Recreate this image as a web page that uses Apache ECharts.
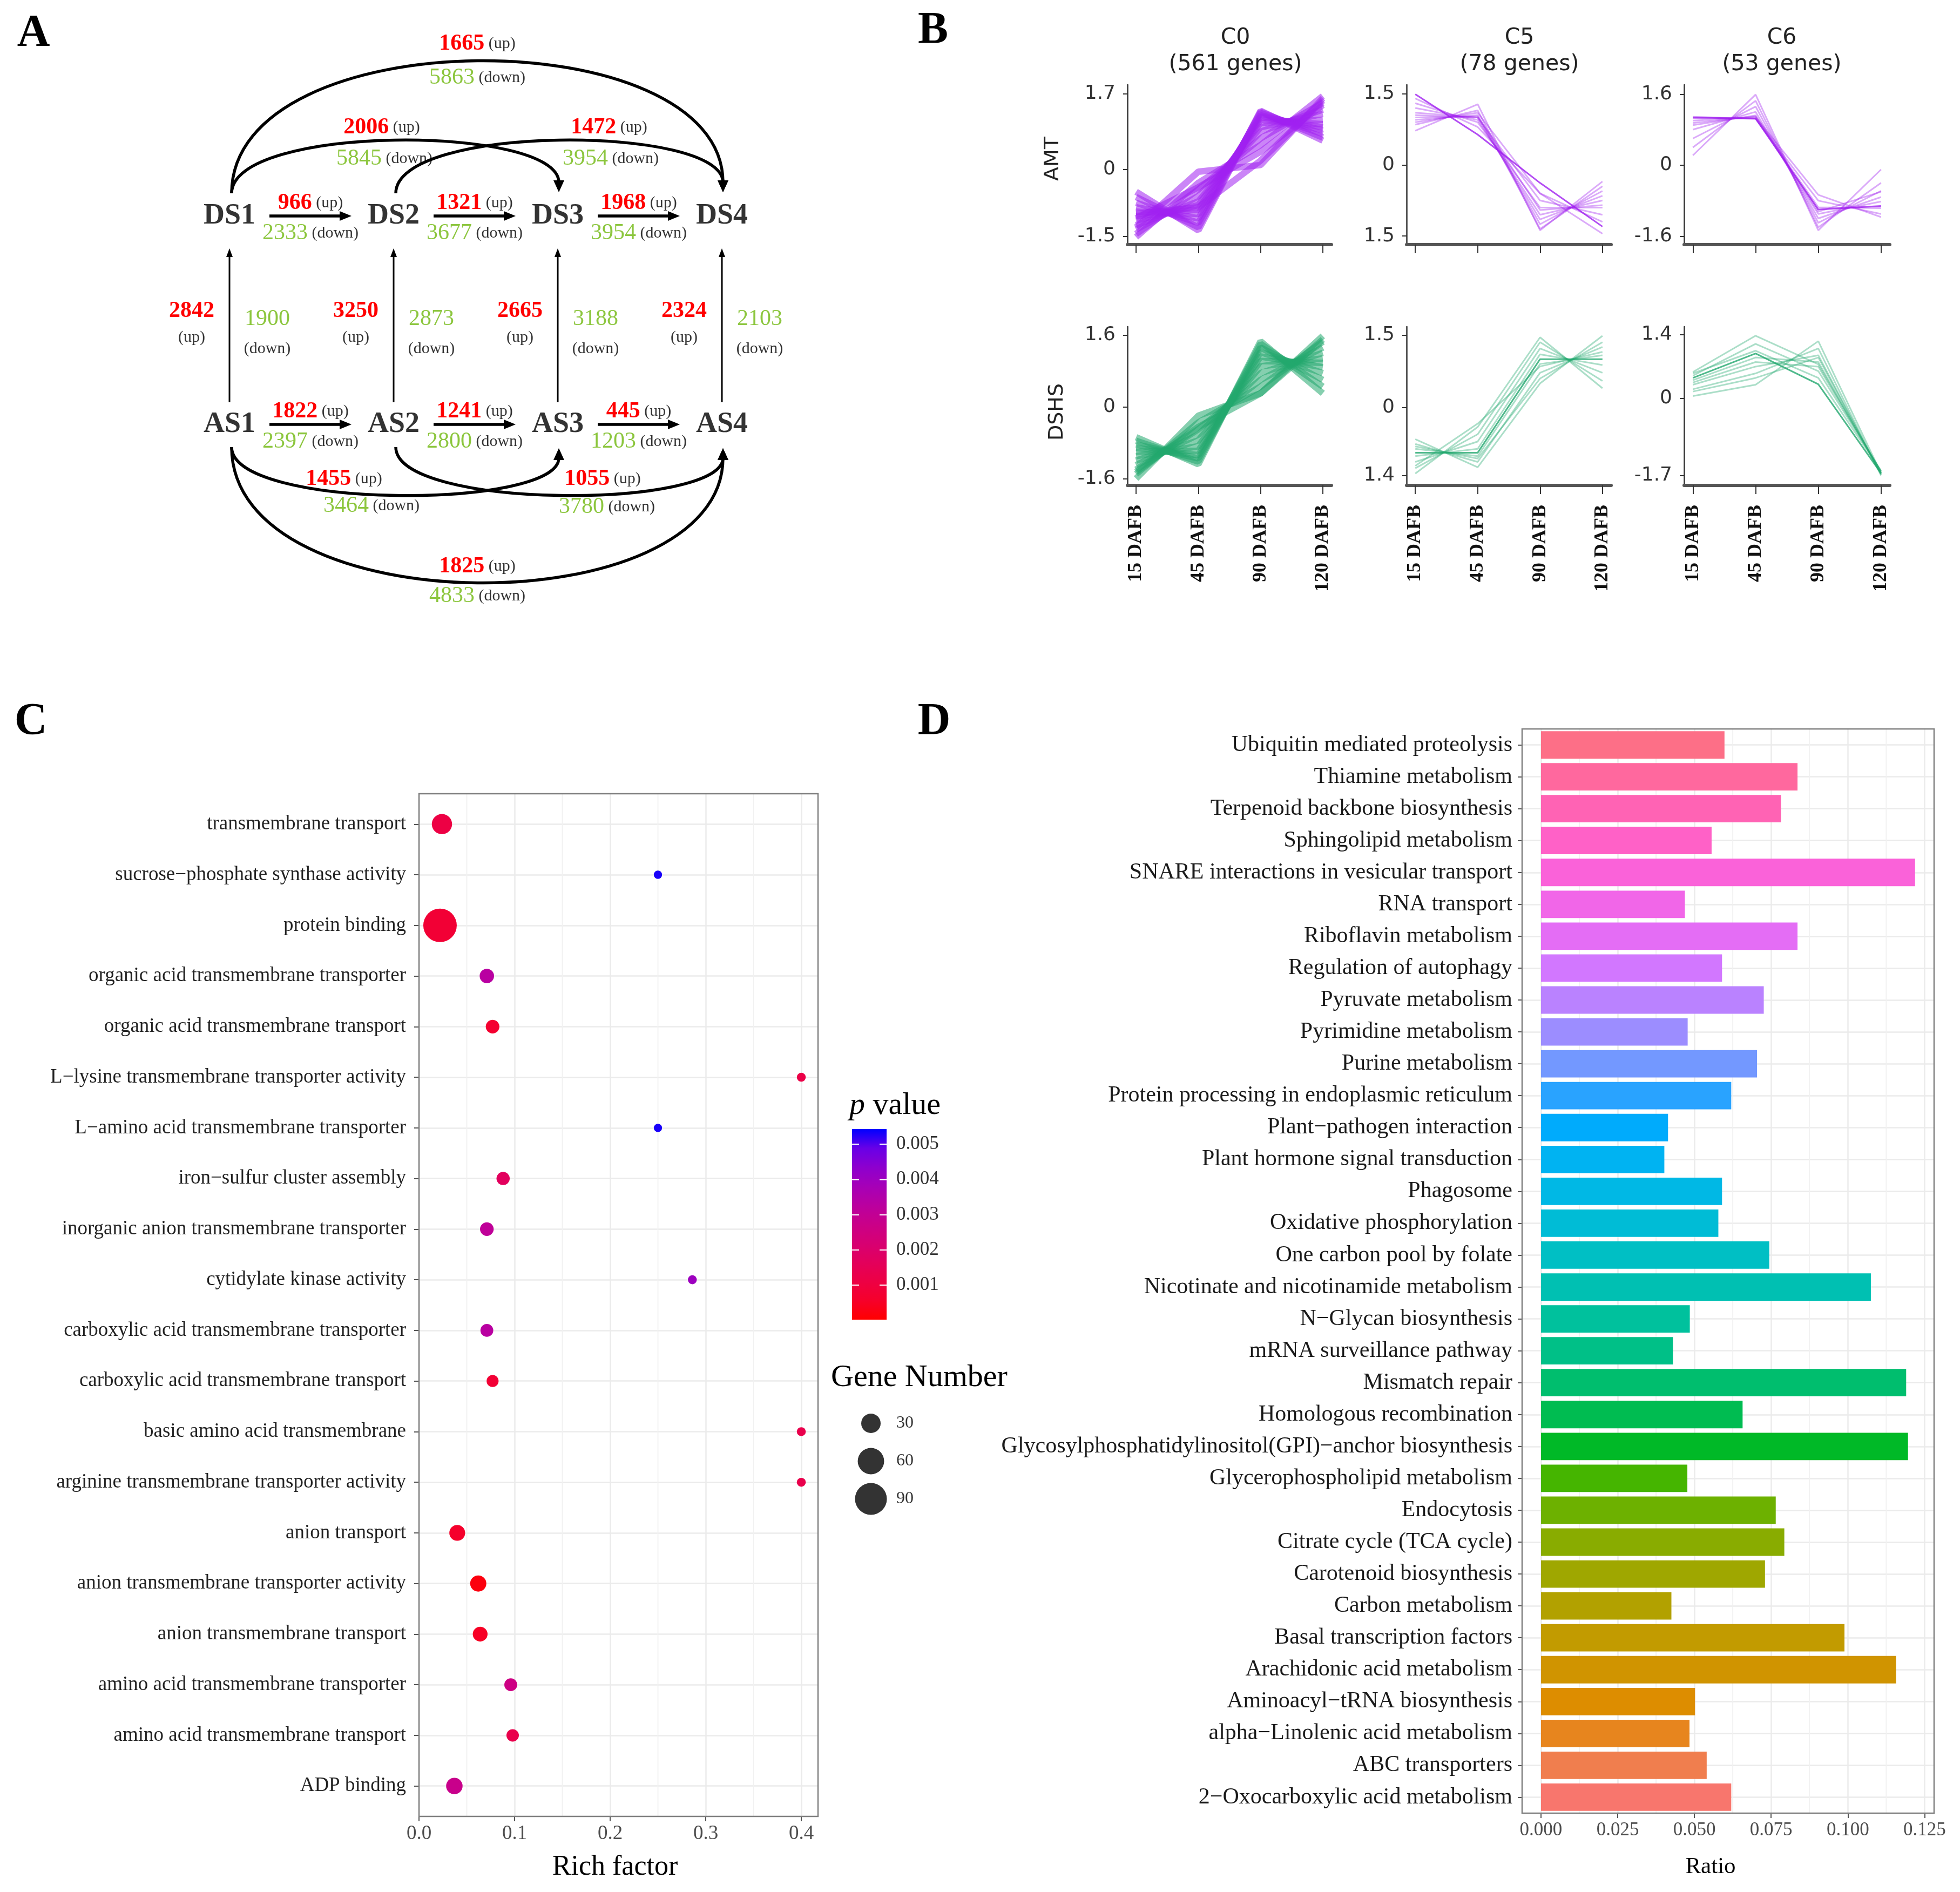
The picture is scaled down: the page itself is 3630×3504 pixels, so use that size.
<!DOCTYPE html>
<html><head><meta charset="utf-8">
<script src="https://cdn.jsdelivr.net/npm/echarts@6/dist/echarts.min.js"></script>
<style>html,body{margin:0;padding:0;background:#fff}#c{width:3630px;height:3504px}</style>
</head><body><div id="c"></div>
<script>
// ================= DATA =================
// Panel A: differential genes between stages
const nodeNames = ['DS1','DS2','DS3','DS4','AS1','AS2','AS3','AS4'];
const stepLinksDS = [['DS1','DS2',966,2333],['DS2','DS3',1321,3677],['DS3','DS4',1968,3954]];
const stepLinksAS = [['AS1','AS2',1822,2397],['AS2','AS3',1241,2800],['AS3','AS4',445,1203]];
const skipLinksDS = [['DS1','DS4',1665,5863],['DS1','DS3',2006,5845],['DS2','DS4',1472,3954]];
const skipLinksAS = [['AS1','AS4',1825,4833],['AS1','AS3',1455,3464],['AS2','AS4',1055,3780]];
const crossLinks  = [['AS1','DS1',2842,1900],['AS2','DS2',3250,2873],['AS3','DS3',2665,3188],['AS4','DS4',2324,2103]];

// Panel B: expression profiles (representative genes, values at 4 time points)
const timePoints = ['15 DAFB','45 DAFB','90 DAFB','120 DAFB'];
const clusterNames = ['C0','C5','C6'];
const clusterGenes = [561,78,53];
const rowNames = ['AMT','DSHS'];
const amtC0 = [[-1.52,-0.30,0.55,1.65],[-1.45,-0.45,0.70,1.50],[-1.35,-0.60,0.85,1.35],[-1.25,-0.72,0.95,1.25],
  [-1.15,-0.80,1.05,1.12],[-1.05,-0.90,1.12,1.02],[-0.95,-1.00,1.18,0.95],[-0.85,-1.10,1.22,0.88],
  [-0.75,-1.20,1.27,0.80],[-0.62,-1.30,1.30,0.72],[-0.50,-1.37,1.32,0.65],[-1.30,-0.05,0.10,1.60],
  [-1.10,-0.40,0.40,1.45],[-1.00,-0.85,0.20,1.55]];
const amtC5 = [[1.49,0.64,-0.38,-1.30],[1.40,0.80,-0.60,-1.20],[1.30,0.90,-0.90,-0.90],[1.20,0.95,-1.05,-0.75],
  [1.05,1.00,-1.15,-0.65],[0.95,1.05,-1.25,-0.55],[0.85,1.15,-1.35,-0.45],[0.72,1.28,-1.38,-0.35],
  [1.10,1.00,-0.75,-1.05],[1.00,1.02,-0.95,-0.85],[0.90,1.10,-0.60,-1.45]];
const amtC6 = [[1.07,1.05,-1.00,-0.92],[1.05,1.06,-0.95,-0.97],[0.95,1.10,-1.10,-0.82],[0.80,1.20,-1.20,-0.72],
  [0.60,1.32,-1.30,-0.58],[0.40,1.45,-1.40,-0.40],[0.22,1.59,-1.47,-0.10],[1.09,1.04,-0.80,-1.10],
  [1.00,1.08,-0.67,-1.17],[0.90,1.12,-1.05,-0.60]];
const dshsC0 = [[-1.60,-0.20,0.30,1.58],[-1.50,-0.35,0.45,1.45],[-1.40,-0.50,0.60,1.32],[-1.30,-0.62,0.75,1.20],
  [-1.20,-0.75,0.90,1.08],[-1.10,-0.88,1.02,0.98],[-1.00,-0.98,1.12,0.88],[-0.92,-1.08,1.22,0.75],
  [-0.84,-1.15,1.32,0.60],[-0.76,-1.22,1.40,0.45],[-0.68,-1.28,1.46,0.30],[-1.45,-0.45,0.30,1.50]];
const dshsC5 = [[-0.93,-0.93,1.00,1.00],[-1.36,-0.40,1.45,0.40],[-1.25,-0.55,1.35,0.55],[-1.12,-0.70,1.22,0.72],
  [-1.00,-0.85,1.10,0.88],[-0.85,-1.00,0.90,1.08],[-0.75,-1.12,0.72,1.25],[-0.65,-1.23,0.50,1.48],
  [-1.20,-0.33,0.85,1.15],[-0.80,-1.05,0.60,1.35]];
const dshsC6 = [[0.45,0.99,0.31,-1.65],[0.58,1.38,0.75,-1.62],[0.50,1.20,0.60,-1.60],[0.40,0.90,0.80,-1.66],
  [0.30,0.70,0.95,-1.68],[0.20,0.55,1.10,-1.70],[0.05,0.30,1.26,-1.65],[0.35,0.80,0.70,-1.62],
  [0.15,0.45,0.90,-1.67],[0.55,1.05,0.45,-1.60]];
const amtTicks = [[-1.5,0,1.7],[-1.5,0,1.5],[-1.6,0,1.6]];
const amtTickLabels = [['-1.5','0','1.7'],['1.5','0','1.5'],['-1.6','0','1.6']];
const dshsTicks = [[-1.6,0,1.6],[-1.4,0,1.5],[-1.7,0,1.4]];
const dshsTickLabels = [['-1.6','0','1.6'],['1.4','0','1.5'],['-1.7','0','1.4']];

// Panel C: GO enrichment
const goTerms = ['transmembrane transport','sucrose\u2212phosphate synthase activity','protein binding',
  'organic acid transmembrane transporter','organic acid transmembrane transport',
  'L\u2212lysine transmembrane transporter activity','L\u2212amino acid transmembrane transporter',
  'iron\u2212sulfur cluster assembly','inorganic anion transmembrane transporter','cytidylate kinase activity',
  'carboxylic acid transmembrane transporter','carboxylic acid transmembrane transport',
  'basic amino acid transmembrane','arginine transmembrane transporter activity','anion transport',
  'anion transmembrane transporter activity','anion transmembrane transport',
  'amino acid transmembrane transporter','amino acid transmembrane transport','ADP binding'];
const richFactor = [0.024,0.25,0.022,0.071,0.077,0.40,0.25,0.088,0.071,0.286,0.071,0.077,0.40,0.40,0.040,0.062,0.064,0.096,0.098,0.037];
const goPValue = [0.0011,0.0053,0.0008,0.0033,0.0007,0.0012,0.0053,0.0017,0.0031,0.0040,0.0033,0.0008,0.0013,0.0013,0.0006,0.0002,0.0005,0.0026,0.0013,0.0028];
const goGeneNumber = [33,1,100,14,12,2,1,11,12,2,10,8,2,2,18,19,15,10,9,20];
const richTicks = [0,0.1,0.2,0.3,0.4];
const richMinor = [0.05,0.15,0.25,0.35];
const pTicks = [0.001,0.002,0.003,0.004,0.005];
const sizeLegend = [30,60,90];

// Panel D: KEGG enrichment (top to bottom)
const keggPathways = ['Ubiquitin mediated proteolysis','Thiamine metabolism','Terpenoid backbone biosynthesis',
  'Sphingolipid metabolism','SNARE interactions in vesicular transport','RNA transport','Riboflavin metabolism',
  'Regulation of autophagy','Pyruvate metabolism','Pyrimidine metabolism','Purine metabolism',
  'Protein processing in endoplasmic reticulum','Plant\u2212pathogen interaction','Plant hormone signal transduction',
  'Phagosome','Oxidative phosphorylation','One carbon pool by folate','Nicotinate and nicotinamide metabolism',
  'N\u2212Glycan biosynthesis','mRNA surveillance pathway','Mismatch repair','Homologous recombination',
  'Glycosylphosphatidylinositol(GPI)\u2212anchor biosynthesis','Glycerophospholipid metabolism','Endocytosis',
  'Citrate cycle (TCA cycle)','Carotenoid biosynthesis','Carbon metabolism','Basal transcription factors',
  'Arachidonic acid metabolism','Aminoacyl\u2212tRNA biosynthesis','alpha\u2212Linolenic acid metabolism',
  'ABC transporters','2\u2212Oxocarboxylic acid metabolism'];
const keggRatio = [0.0598,0.0836,0.0782,0.0556,0.1219,0.0469,0.0836,0.0590,0.0726,0.0478,0.0704,0.0620,0.0414,0.0402,
  0.0590,0.0578,0.0744,0.1075,0.0485,0.0430,0.1190,0.0657,0.1196,0.0477,0.0765,0.0793,0.0730,0.0425,0.0989,0.1157,
  0.0502,0.0484,0.0540,0.0620];
const ratioTicks = [0,0.025,0.05,0.075,0.1,0.125];
const ratioMinor = [0.0125,0.0375,0.0625,0.0875,0.1125];

// ================= STYLE HELPERS =================
const SERIF = "'Liberation Serif','Times New Roman',serif";
const SANS = "'DejaVu Sans',sans-serif";
const RED = '#FF0000', GREEN = '#8CC63E';
const WX=0.95047, WY=1, WZ=1.08883;
function lin2s(c){c=Math.max(0,Math.min(1,c));return Math.round(255*(c<=0.0031308?12.92*c:1.055*Math.pow(c,1/2.4)-0.055));}
function s2lin(c){c/=255;return c<=0.04045?c/12.92:Math.pow((c+0.055)/1.055,2.4);}
function xyzHex(X,Y,Z){const r=3.2404542*X-1.5371385*Y-0.4985314*Z,g=-0.9692660*X+1.8760108*Y+0.0415560*Z,b=0.0556434*X-0.2040259*Y+1.0572252*Z;
  return '#'+[r,g,b].map(v=>lin2s(v).toString(16).padStart(2,'0')).join('');}
function rgbLab(rgb){const [R,G,B]=rgb.map(s2lin);
  const X=(0.4124564*R+0.3575761*G+0.1804375*B)/WX,Y=(0.2126729*R+0.7151522*G+0.0721750*B)/WY,Z=(0.0193339*R+0.1191920*G+0.9503041*B)/WZ;
  const f=t=>t>0.008856?Math.cbrt(t):7.787*t+16/116;const fx=f(X),fy=f(Y),fz=f(Z);return [116*fy-16,500*(fx-fy),200*(fy-fz)];}
function labHex(L,a,b){const fy=(L+16)/116,fx=fy+a/500,fz=fy-b/200;const fi=t=>t*t*t>0.008856?t*t*t:(t-16/116)/7.787;
  return xyzHex(fi(fx)*WX,fi(fy)*WY,fi(fz)*WZ);}
function hclHex(h,c,l){const hr=h*Math.PI/180,U=c*Math.cos(hr),V=c*Math.sin(hr);const Y=Math.pow((l+16)/116,3);
  const un=4*WX/(WX+15*WY+3*WZ),vn=9*WY/(WX+15*WY+3*WZ);const u=U/(13*l)+un,v=V/(13*l)+vn;
  return xyzHex(Y*9*u/(4*v),Y,Y*(12-3*u-20*v)/(4*v));}
const labRed=rgbLab([255,0,0]), labBlue=rgbLab([0,0,255]);
function pColor(t){return labHex(labRed[0]+(labBlue[0]-labRed[0])*t,labRed[1]+(labBlue[1]-labRed[1])*t,labRed[2]+(labBlue[2]-labRed[2])*t);}
const pStops=[];for(let i=0;i<=10;i++)pStops.push(pColor(i/10));
const P_MIN=0.00002, P_MAX=0.00543;
const sizeOf = n => Math.sqrt(200 + 36.5*n);
const nK = keggPathways.length;
const barColor = i => hclHex(15 + (nK-1-i)*360/nK, 100, 65);

// ================= LAYOUT =================
const grids=[], xAxes=[], yAxes=[], series=[];
function addGrid(g){grids.push(Object.assign({outerBoundsMode:'none',containLabel:false},g));return grids.length-1;}
function minorLines(xi, yi, values){
  return {type:'custom',xAxisIndex:xi,yAxisIndex:yi,silent:true,clip:false,z:1,
    data:values.map(v=>[v,0]),
    renderItem:(params,api)=>{const cs=params.coordSys;const x=api.coord([api.value(0),0])[0];
      return {type:'line',shape:{x1:x,y1:cs.y,x2:x,y2:cs.y+cs.height},style:{stroke:'#F1F1F1',lineWidth:1.8}};}};
}
function panelBorder(xi, yi){
  return {type:'custom',xAxisIndex:xi,yAxisIndex:yi,silent:true,clip:false,z:10,data:[[0,0]],
    renderItem:(params)=>{const cs=params.coordSys;
      return {type:'rect',shape:{x:cs.x,y:cs.y,width:cs.width,height:cs.height},style:{fill:null,stroke:'#7F7F7F',lineWidth:2.5}};}};
}
const noLine = {show:false,onZero:false};

// ---- Panel A ----
const gA = addGrid({left:425, top:400, width:912, height:386});
xAxes.push({gridIndex:gA, type:'value', min:0, max:3, show:false, axisLine:noLine});
yAxes.push({gridIndex:gA, type:'value', min:0, max:1, show:false, axisLine:noLine});
const axA = xAxes.length-1, ayA = yAxes.length-1;
const stageOf = n => +n.slice(2) - 1;
const rowOf = n => n.startsWith('DS') ? 1 : 0;
// kinds: 0 = step (horizontal), 1 = cross (vertical), 2 = skip (arc)
const linkRows = [].concat(
  stepLinksDS.map(l=>[l,0]), stepLinksAS.map(l=>[l,0]),
  crossLinks.map(l=>[l,1]),
  skipLinksDS.map(l=>[l,2]), skipLinksAS.map(l=>[l,2])
).map(([l,k])=>[stageOf(l[0]),rowOf(l[0]),stageOf(l[1]),rowOf(l[1]),k,l[2],l[3]]);
const arcDepth = {top:{2:96,3:243}, bottom:{2:87,3:249}};
// label placement tweaks for arcs: [up dx, down dx, up dy, down dy]
const arcLabelPos = {'1-0-2':[-25,-20,-26,32],'1-1-3':[92,95,-26,32],'1-0-3':[0,0,-34,29],
                     '0-0-2':[-95,-44,-28,22],'0-1-3':[80,88,-28,24],'0-0-3':[0,0,-28,27]};
const upRich = {r:{fill:RED,fontSize:42,fontWeight:'bold',fontFamily:SERIF},u:{fill:'#333',fontSize:30,fontFamily:SERIF}};
const dnRich = {g:{fill:GREEN,fontSize:42,fontFamily:SERIF},u:{fill:'#333',fontSize:30,fontFamily:SERIF}};
function txt(x,y,text,rich){return {type:'text',x,y,style:{text,rich,align:'center',verticalAlign:'middle'}};}
function head(tip,dir,len,hw){const bx=tip[0]-dir[0]*len,by=tip[1]-dir[1]*len,nx=-dir[1],ny=dir[0];
  return {type:'polygon',shape:{points:[tip,[bx+nx*hw,by+ny*hw],[bx-nx*hw,by-ny*hw]]},style:{fill:'#000'}};}
series.push({type:'custom',xAxisIndex:axA,yAxisIndex:ayA,silent:true,clip:false,z:3,data:linkRows,
  renderItem:(params,api)=>{
    const s=[api.value(0),api.value(1)],t=[api.value(2),api.value(3)],kind=api.value(4),up=api.value(5),dn=api.value(6);
    const p1=api.coord(s),p2=api.coord(t);const ch=[];
    const st=w=>({stroke:'#000',lineWidth:w,fill:null});
    if(kind===0){
      const y=p1[1],a=p1[0]+74,b=p2[0]-78,L=22;
      ch.push({type:'line',shape:{x1:a,y1:y,x2:b-L+3,y2:y},style:st(5.5)});
      ch.push(head([b,y],[1,0],L,9));
      const m=(a+b)/2;
      ch.push(txt(m,y-24,`{r|${up}}{u| (up)}`,upRich));
      ch.push(txt(m,y+32,`{g|${dn}}{u| (down)}`,dnRich));
    } else if(kind===1){
      const x=p1[0],a=p1[1]-41,b=p2[1]+60,L=16;
      ch.push({type:'line',shape:{x1:x,y1:a,x2:x,y2:b+L-3},style:st(3)});
      ch.push(head([x,b],[0,-1],L,6));
      const m=(a+b)/2;
      ch.push(txt(x-70,m-26,`{r|${up}}`,upRich));
      ch.push(txt(x-70,m+23,`{u|(up)}`,upRich));
      ch.push(txt(x+70,m-12,`{g|${dn}}`,dnRich));
      ch.push(txt(x+70,m+44,`{u|(down)}`,dnRich));
    } else {
      const topArc=s[1]===1, sg=topArc?-1:1;
      const depth=(topArc?arcDepth.top:arcDepth.bottom)[t[0]-s[0]];
      const x1=p1[0]+4,x2=p2[0]+2,ya=p1[1]+sg*42,yb=p2[1]+sg*44,yc=ya+sg*depth*4/3,L=22;
      const dir=[0,-sg];
      ch.push({type:'bezierCurve',shape:{x1:x1,y1:ya,cpx1:x1,cpy1:yc,cpx2:x2,cpy2:yc,x2:x2,y2:yb+sg*(L-4)},style:st(5.5)});
      ch.push(head([x2,yb],dir,L,10));
      const m=(x1+x2)/2,py=ya+sg*depth;
      const lp=arcLabelPos[`${s[1]}-${s[0]}-${t[0]}`]||[0,0,-28,30];
      ch.push(txt(m+lp[0],py+lp[2],`{r|${up}}{u| (up)}`,upRich));
      ch.push(txt(m+lp[1],py+lp[3],`{g|${dn}}{u| (down)}`,dnRich));
    }
    return {type:'group',children:ch};
  }});
series.push({type:'scatter',xAxisIndex:axA,yAxisIndex:ayA,silent:true,symbolSize:1,itemStyle:{color:'rgba(0,0,0,0)'},
  data:nodeNames.map(n=>[stageOf(n),rowOf(n)]),
  label:{show:true,position:'inside',formatter:p=>nodeNames[p.dataIndex],fontSize:54,fontWeight:'bold',fontFamily:SERIF,color:'#000'},z:4});

// ---- Panel B ----
const bCols=[{left:2088,width:378},{left:2605,width:379},{left:3119,width:381}];
const bRows=[{top:157,height:296},{top:605,height:294}];
const bRange=[[[-1.69,1.906],[-1.68,1.69],[-1.79,1.81]],[[-1.753,1.785],[-1.605,1.67],[-1.92,1.58]]];
const bData=[[amtC0,amtC5,amtC6],[dshsC0,dshsC5,dshsC6]];
const bTicks=[amtTicks,dshsTicks], bTickLabels=[amtTickLabels,dshsTickLabels];
const bColor=['#A020F0','#22A86E'];
const tpIdx = timePoints.map((_,i)=>i);
for(let r=0;r<2;r++)for(let c=0;c<3;c++){
  const g=addGrid({left:bCols[c].left,width:bCols[c].width,top:bRows[r].top,height:bRows[r].height});
  xAxes.push({gridIndex:g,type:'value',min:-0.14,max:3.14,
    axisLine:{show:true,onZero:false,lineStyle:{color:'#555',width:6}},
    axisTick:{show:true,customValues:tpIdx,length:16,lineStyle:{color:'#333',width:2}},
    axisLabel:{show:r===1,customValues:tpIdx,formatter:v=>timePoints[Math.round(v)],rotate:90,margin:36,
      fontFamily:SERIF,fontWeight:'bold',fontSize:36,color:'#111'},
    splitLine:{show:false}});
  const tk=bTicks[r][c], tl=bTickLabels[r][c];
  yAxes.push({gridIndex:g,type:'value',min:bRange[r][c][0],max:bRange[r][c][1],
    axisLine:{show:true,onZero:false,lineStyle:{color:'#333',width:2.5}},
    axisTick:{show:true,customValues:tk,length:8,lineStyle:{color:'#333',width:2}},
    axisLabel:{customValues:tk,formatter:v=>{const k=tk.findIndex(t=>Math.abs(t-v)<1e-9);return k<0?'':tl[k];},
      margin:22,fontFamily:SANS,fontSize:36,color:'#333'},
    splitLine:{show:false}});
  const xi=xAxes.length-1, yi=yAxes.length-1;
  bData[r][c].forEach((ln,k)=>{
    const dense=c===0;
    series.push({type:'line',xAxisIndex:xi,yAxisIndex:yi,silent:true,symbol:'none',
      data:ln.map((v,i)=>[i,v]),
      lineStyle:{color:bColor[r],width:dense?12:3,opacity:dense?0.55:(k===0?0.8:0.38)}});
  });
}

// ---- Panel C ----
const gC = addGrid({left:776,top:1470,width:739,height:1894});
xAxes.push({gridIndex:gC,type:'value',min:0,max:0.4175,position:'bottom',
  axisLine:noLine,
  axisTick:{show:true,customValues:richTicks,length:9,lineStyle:{color:'#555',width:2}},
  axisLabel:{customValues:richTicks,formatter:v=>v.toFixed(1),fontFamily:SERIF,fontSize:37,color:'#4D4D4D',margin:14},
  splitLine:{show:true,lineStyle:{color:'#EBEBEB',width:2.5}}});
const axC=xAxes.length-1;
const goIdx=goTerms.map((_,i)=>i);
yAxes.push({gridIndex:gC,type:'value',inverse:true,min:-0.6,max:19.6,
  axisLine:noLine,
  axisTick:{show:true,customValues:goIdx,length:9,lineStyle:{color:'#555',width:2}},
  axisLabel:{customValues:goIdx,formatter:v=>goTerms[Math.round(v)],fontFamily:SERIF,fontSize:37,color:'#222',margin:24},
  splitLine:{show:true,lineStyle:{color:'#EBEBEB',width:2.5}}});
const ayC=yAxes.length-1;
series.push(minorLines(axC,ayC,richMinor));
const idxC=series.length;
series.push({type:'scatter',xAxisIndex:axC,yAxisIndex:ayC,silent:true,
  data:goTerms.map((t,i)=>[richFactor[i],i,goPValue[i],goGeneNumber[i]]),
  symbolSize:v=>sizeOf(v[3]),itemStyle:{opacity:1},z:4});
series.push(panelBorder(axC,ayC));

// colour bar
const gCB = addGrid({left:1578,top:2091,width:64,height:353,show:true,borderWidth:0,borderColor:'transparent',
  backgroundColor:{type:'linear',x:0,y:0,x2:0,y2:1,colorStops:pStops.slice().reverse().map((c,i)=>({offset:i/10,color:c}))}});
xAxes.push({gridIndex:gCB,type:'value',min:0,max:1,show:false,axisLine:noLine});
yAxes.push({gridIndex:gCB,type:'value',min:P_MIN,max:P_MAX,position:'right',
  axisLine:noLine,
  axisTick:{show:true,inside:true,customValues:pTicks,length:13,lineStyle:{color:'#fff',width:2}},
  axisLabel:{customValues:pTicks,formatter:v=>v.toFixed(3),margin:18,fontFamily:SERIF,fontSize:35,color:'#333'},
  splitLine:{show:false}});
yAxes.push({gridIndex:gCB,type:'value',min:P_MIN,max:P_MAX,position:'left',
  axisLine:noLine,
  axisTick:{show:true,inside:true,customValues:pTicks,length:13,lineStyle:{color:'#fff',width:2}},
  axisLabel:{show:false},splitLine:{show:false}});

// size legend
const gSL = addGrid({left:1583,top:2601,width:60,height:210});
xAxes.push({gridIndex:gSL,type:'value',min:-1,max:1,show:false,axisLine:noLine});
yAxes.push({gridIndex:gSL,type:'category',inverse:true,data:sizeLegend.map(String),position:'right',
  axisLine:noLine,axisTick:{show:false},
  axisLabel:{margin:17,fontFamily:SERIF,fontSize:32,color:'#333'}});
series.push({type:'scatter',xAxisIndex:xAxes.length-1,yAxisIndex:yAxes.length-1,silent:true,
  data:sizeLegend.map((n,i)=>[0,i,n]),symbolSize:v=>sizeOf(v[2]),itemStyle:{color:'#000'}});

// ---- Panel D ----
const gD = addGrid({left:2819,top:1350,width:763,height:2008});
xAxes.push({gridIndex:gD,type:'value',min:-0.00615,max:0.1281,position:'bottom',
  axisLine:noLine,
  axisTick:{show:true,customValues:ratioTicks,length:9,lineStyle:{color:'#555',width:2}},
  axisLabel:{customValues:ratioTicks,formatter:v=>v.toFixed(3),fontFamily:SERIF,fontSize:35,color:'#4D4D4D',margin:14},
  splitLine:{show:true,lineStyle:{color:'#EBEBEB',width:2.5}}});
const axD=xAxes.length-1;
yAxes.push({gridIndex:gD,type:'category',inverse:true,data:keggPathways,
  axisLine:noLine,
  axisTick:{show:true,alignWithLabel:true,interval:0,length:8,lineStyle:{color:'#555',width:2}},
  axisLabel:{interval:0,fontFamily:SERIF,fontSize:42,color:'#1A1A1A',margin:18},
  splitLine:{show:false}});
const ayD=yAxes.length-1;
const kIdx=keggPathways.map((_,i)=>i);
yAxes.push({gridIndex:gD,type:'value',inverse:true,min:-0.5,max:nK-0.5,position:'right',
  axisLine:noLine,axisTick:{show:false,customValues:kIdx},axisLabel:{show:false},
  splitLine:{show:true,lineStyle:{color:'#EBEBEB',width:2.5}}});
series.push(minorLines(axD,ayD,ratioMinor));
series.push({type:'bar',xAxisIndex:axD,yAxisIndex:ayD,silent:true,barCategoryGap:'14%',
  data:keggRatio.map((v,i)=>({value:v,itemStyle:{color:barColor(i)}})),z:3});
series.push(panelBorder(axD,ayD));

// ---- Texts ----
const T=(x,y,text,font,extra)=>Object.assign({type:'text',x,y,silent:true,
  style:Object.assign({text,font,fill:'#000',align:'center',verticalAlign:'middle'},extra&&extra.style||{})},extra&&extra.el||{});
const letterFont = `bold 84px ${SERIF}`;
const graphics=[
  T(62,63,'A',letterFont),T(1728,58,'B',letterFont),T(57,1338,'C',letterFont),T(1730,1338,'D',letterFont),
  T(1950,294,rowNames[0],`38px ${SANS}`,{el:{rotation:Math.PI/2},style:{fill:'#222'}}),
  T(1958,763,rowNames[1],`38px ${SANS}`,{el:{rotation:Math.PI/2},style:{fill:'#222'}}),
  T(1139,3458,'Rich factor',`52px ${SERIF}`),
  T(3168,3458,'Ratio',`43px ${SERIF}`),
  T(1573,2048,'{i|p} value',`58px ${SERIF}`,{style:{align:'left',rich:{i:{fontStyle:'italic',fontFamily:SERIF,fontSize:58}}}}),
  T(1539,2552,'Gene Number',`58px ${SERIF}`,{style:{align:'left'}})
];
const titleX=[2288,2814,3300];
clusterNames.forEach((n,i)=>graphics.push(T(titleX[i],95,`${n}\n(${clusterGenes[i]} genes)`,`41px ${SANS}`,{style:{fill:'#222',lineHeight:49}})));

const option={
  animation:false, backgroundColor:'#fff',
  textStyle:{fontFamily:SERIF},
  grid:grids, xAxis:xAxes, yAxis:yAxes, series,
  visualMap:[{type:'continuous',show:false,seriesIndex:[idxC],dimension:2,min:P_MIN,max:P_MAX,inRange:{color:pStops}}],
  graphic:{elements:graphics}
};
const chart=echarts.init(document.getElementById('c'),null,{width:3630,height:3504});
chart.setOption(option);
</script></body></html>
